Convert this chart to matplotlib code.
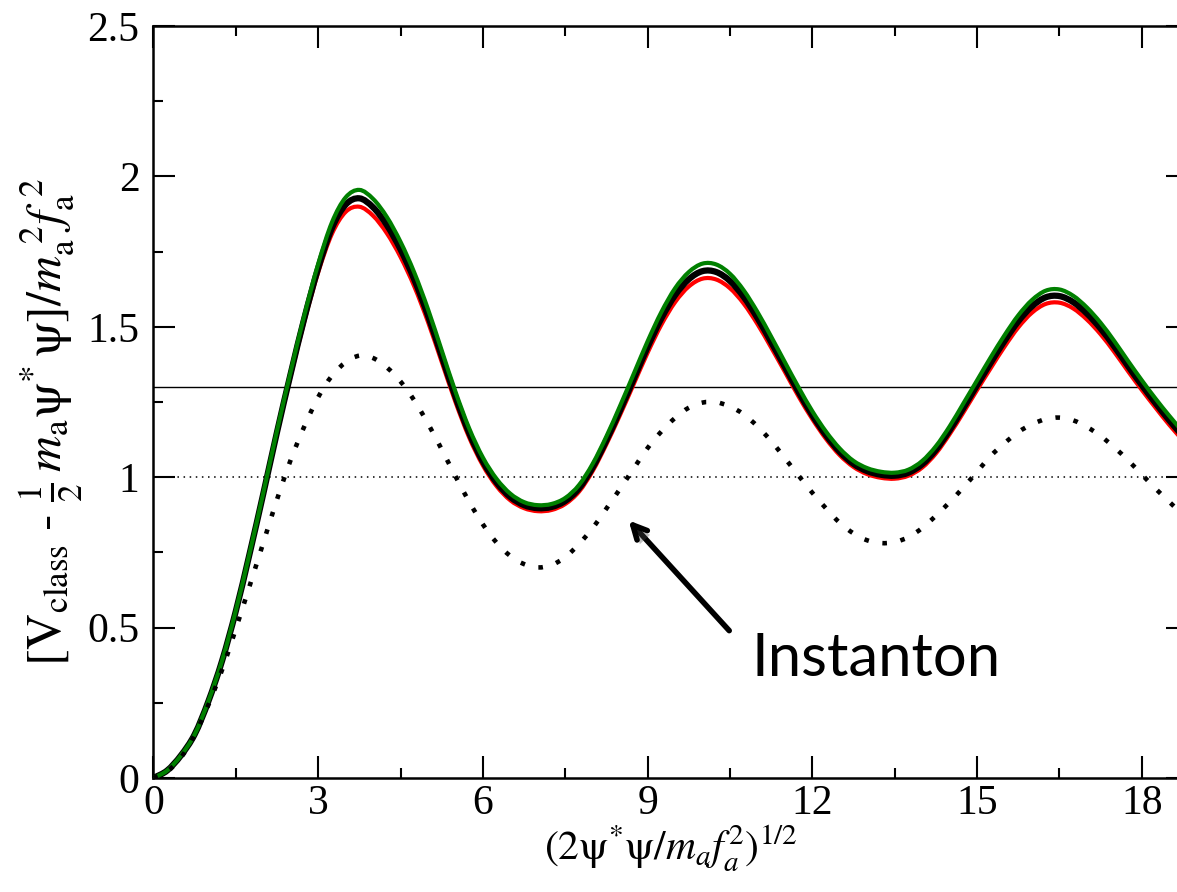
import numpy as np
import matplotlib
matplotlib.use("Agg")
import matplotlib.pyplot as plt
from matplotlib.ticker import MultipleLocator, FuncFormatter
from matplotlib.path import Path
from matplotlib.patches import PathPatch
import matplotlib.patheffects as pe

matplotlib.rcParams.update({
    'font.family': 'serif',
    'font.serif': ['Liberation Serif', 'DejaVu Serif'],
    'mathtext.fontset': 'stix',
})

# sample positions, (2 psi* psi / m_a f_a^2)^(1/2)
rho = np.linspace(0, 18.75, 76)

v_black = [0, 0.025, 0.075, 0.145, 0.255, 0.39, 0.555, 0.745, 0.945, 1.15,
           1.345, 1.53, 1.695, 1.828, 1.906, 1.927, 1.897, 1.838, 1.757, 1.657,
           1.537, 1.402, 1.267, 1.147, 1.052, 0.982, 0.934, 0.907, 0.897, 0.901,
           0.921, 0.963, 1.033, 1.123, 1.223, 1.328, 1.433, 1.528, 1.605, 1.658,
           1.685, 1.682, 1.652, 1.599, 1.529, 1.449, 1.366, 1.283, 1.206, 1.139,
           1.084, 1.044, 1.02, 1.008, 1.005, 1.015, 1.043, 1.091, 1.156, 1.23,
           1.306, 1.381, 1.453, 1.518, 1.568, 1.598, 1.602, 1.582, 1.544, 1.494,
           1.434, 1.369, 1.306, 1.246, 1.189, 1.136]

v_green = [0, 0.025, 0.075, 0.145, 0.256, 0.391, 0.557, 0.747, 0.948, 1.155,
           1.352, 1.54, 1.709, 1.847, 1.93, 1.955, 1.925, 1.865, 1.782, 1.68,
           1.558, 1.421, 1.284, 1.162, 1.065, 0.994, 0.945, 0.917, 0.907, 0.911,
           0.931, 0.974, 1.045, 1.136, 1.238, 1.345, 1.452, 1.549, 1.628, 1.682,
           1.71, 1.707, 1.676, 1.621, 1.549, 1.467, 1.382, 1.298, 1.219, 1.151,
           1.095, 1.054, 1.03, 1.018, 1.015, 1.025, 1.054, 1.103, 1.169, 1.245,
           1.322, 1.399, 1.472, 1.538, 1.589, 1.62, 1.624, 1.603, 1.564, 1.513,
           1.452, 1.386, 1.322, 1.261, 1.204, 1.15]

v_red = [0, 0.025, 0.075, 0.145, 0.254, 0.389, 0.553, 0.743, 0.942, 1.145,
         1.338, 1.52, 1.681, 1.809, 1.882, 1.899, 1.869, 1.811, 1.732, 1.634,
         1.516, 1.383, 1.25, 1.132, 1.039, 0.97, 0.923, 0.897, 0.887, 0.891,
         0.911, 0.952, 1.021, 1.11, 1.208, 1.311, 1.414, 1.507, 1.582, 1.634,
         1.66, 1.657, 1.628, 1.577, 1.509, 1.431, 1.35, 1.268, 1.193, 1.127,
         1.073, 1.034, 1.01, 0.998, 0.995, 1.005, 1.032, 1.079, 1.143, 1.215,
         1.29, 1.363, 1.434, 1.498, 1.547, 1.576, 1.58, 1.561, 1.524, 1.475,
         1.416, 1.352, 1.29, 1.231, 1.174, 1.122]

v_instanton = [0, 0.022, 0.068, 0.143, 0.243, 0.36, 0.496, 0.638, 0.782, 0.926,
               1.058, 1.17, 1.266, 1.337, 1.382, 1.404, 1.396, 1.365, 1.318, 1.255,
               1.178, 1.092, 1.003, 0.918, 0.843, 0.782, 0.738, 0.711, 0.70, 0.708,
               0.734, 0.778, 0.831, 0.896, 0.962, 1.03, 1.097, 1.152, 1.197, 1.231,
               1.248, 1.249, 1.235, 1.209, 1.169, 1.12, 1.063, 1.005, 0.948, 0.896,
               0.848, 0.813, 0.79, 0.781, 0.784, 0.801, 0.831, 0.872, 0.917, 0.966,
               1.018, 1.071, 1.113, 1.15, 1.176, 1.193, 1.198, 1.189, 1.167, 1.137,
               1.099, 1.056, 1.009, 0.962, 0.918, 0.875]

level_solid = 1.3
level_dotted = 1.0


def smooth_path(x, y):
    # Catmull-Rom spline through the samples, as cubic Bezier segments
    pts = np.column_stack([np.asarray(x, float), np.asarray(y, float)])
    ext = np.vstack([2 * pts[0] - pts[1], pts, 2 * pts[-1] - pts[-2]])
    verts = [pts[0]]
    codes = [Path.MOVETO]
    for i in range(len(pts) - 1):
        p0, p1, p2, p3 = ext[i], ext[i + 1], ext[i + 2], ext[i + 3]
        verts += [p1 + (p2 - p0) / 6.0, p2 - (p3 - p1) / 6.0, p2]
        codes += [Path.CURVE4] * 3
    return Path(verts, codes)


def add_curve(ax, x, y, **kw):
    ax.add_patch(PathPatch(smooth_path(x, y), fill=False, **kw))


fig = plt.figure(figsize=(11.77, 8.92), dpi=100)
ax = fig.add_axes([0.1304, 0.1278, 0.8789, 0.8431])

ax.axhline(level_solid, color='black', lw=1.0, zorder=1)
ax.axhline(level_dotted, color='black', lw=1.1, linestyle=(0, (1, 3)), zorder=1)

add_curve(ax, rho, v_red, edgecolor='#ff0000', lw=3.0, zorder=2)
add_curve(ax, rho, v_black, edgecolor='black', lw=4.5, zorder=3)
add_curve(ax, rho, v_green, edgecolor='#008000', lw=3.0, zorder=4)
add_curve(ax, rho, v_instanton, edgecolor='black', lw=3.3,
          linestyle=(0, (1, 3.0)), zorder=5)

ax.set_xlim(0, 18.84)
ax.set_ylim(0, 2.5)
ax.xaxis.set_major_locator(MultipleLocator(3))
ax.xaxis.set_minor_locator(MultipleLocator(1.5))
ax.yaxis.set_major_locator(MultipleLocator(0.5))
ax.yaxis.set_minor_locator(MultipleLocator(0.25))
ax.xaxis.set_major_formatter(FuncFormatter(lambda v, p: '%g' % v))
ax.yaxis.set_major_formatter(FuncFormatter(lambda v, p: '%g' % v))

ax.tick_params(which='both', direction='in', top=True, right=True, width=1.5)
ax.tick_params(which='major', length=15.5, labelsize=30)
ax.tick_params(which='minor', length=7)
ax.tick_params(axis='x', pad=5)
ax.tick_params(axis='y', pad=10)
for s in ax.spines.values():
    s.set_linewidth(1.8)

ax.set_xlabel(r'$(2\mathrm{\psi}^{*}\mathrm{\psi}/m_{a}f_{a}^{2})^{1/2}$',
              fontsize=30, labelpad=0)
ax.set_ylabel(r'$[\mathrm{V}_{\mathrm{class}}\ \text{-}\ \frac{1}{2}\,m_{\mathrm{a}}'
              r'\mathrm{\psi}^{*}\,\mathrm{\psi}]/m_{\mathrm{a}}^{\ 2}f_{\mathrm{a}}^{\ 2}$',
              fontsize=36)
ax.yaxis.set_label_coords(-0.066, 0.474)

# arrow pointing at the instanton curve
ax.annotate('', xy=(8.62, 0.863), xytext=(10.52, 0.483),
            arrowprops=dict(arrowstyle='->,head_length=1.0,head_width=0.5', lw=4,
                            color='black',
                            path_effects=[pe.SimplePatchShadow(offset=(2, -3), alpha=0.35),
                                          pe.Normal()]),
            zorder=6)
ax.text(10.9, 0.34, 'Instanton', fontsize=43, family=['Lato', 'DejaVu Sans'],
        ha='left', va='baseline', zorder=6)

plt.savefig('out.png', dpi=100)
